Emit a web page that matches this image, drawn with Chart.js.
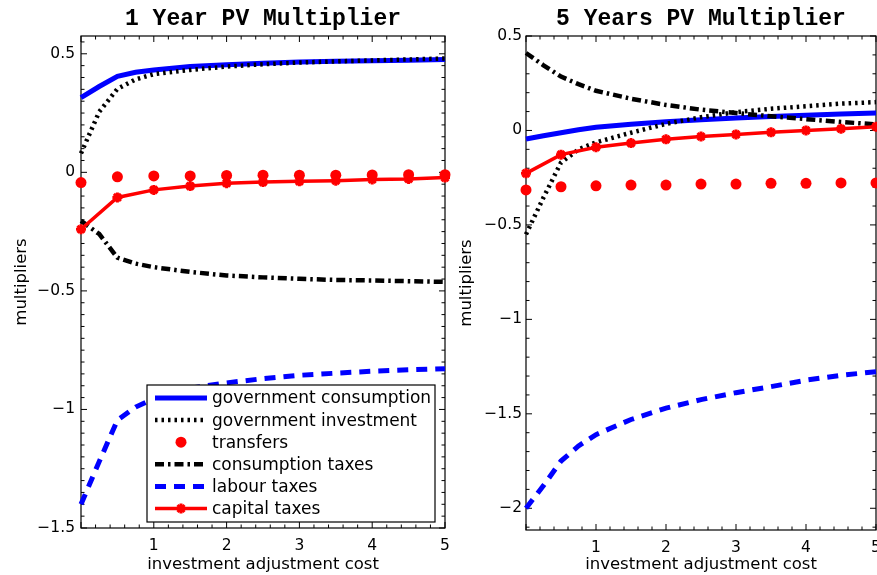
<!DOCTYPE html>
<html>
<head>
<meta charset="utf-8">
<script src="https://cdn.jsdelivr.net/npm/chart.js@4.4.1/dist/chart.umd.min.js"></script>
<style>
  html, body { margin: 0; padding: 0; background: #fff; }
  #page { position: relative; width: 877px; height: 575px; overflow: hidden; }
  #left { position: absolute; left: 0; top: 0; }
  #rightWrap { position: absolute; left: 440px; top: 0; width: 437px; height: 575px; overflow: hidden; }
</style>
</head>
<body>
<div id="page">
  <canvas id="left" width="460" height="575"></canvas>
  <div id="rightWrap"><canvas id="right" width="470" height="575"></canvas></div>
</div>
<script>
// investment adjustment cost grid
const xFine = [0, 0.25, 0.5, 0.75, 1, 1.5, 2, 2.5, 3, 3.5, 4, 4.5, 5];
const xMark = [0, 0.5, 1, 1.5, 2, 2.5, 3, 3.5, 4, 4.5, 5];

const seriesNames = ['government consumption', 'government investment', 'transfers',
  'consumption taxes', 'labour taxes', 'capital taxes'];

const xTickVals = [1, 2, 3, 4, 5];
const leftYTicks = [-1.5, -1, -0.5, 0, 0.5];
const rightYTicks = [-2, -1.5, -1, -0.5, 0, 0.5];

// 1 year PV multiplier
const L_govCons = [0.315, 0.362, 0.405, 0.422, 0.432, 0.446, 0.454, 0.460, 0.465, 0.468, 0.471, 0.473, 0.476];
const L_govInv = [0.08, 0.255, 0.352, 0.392, 0.414, 0.432, 0.446, 0.456, 0.463, 0.468, 0.472, 0.476, 0.480];
const L_transfers = [-0.043, -0.019, -0.015, -0.015, -0.013, -0.012, -0.012, -0.012, -0.011, -0.010, -0.010];
const L_consTax = [-0.205, -0.26, -0.36, -0.385, -0.40, -0.42, -0.435, -0.443, -0.449, -0.454, -0.456, -0.459, -0.462];
const L_labourTax = [-1.40, -1.22, -1.045, -0.99, -0.955, -0.91, -0.888, -0.87, -0.856, -0.847, -0.839, -0.833, -0.828];
const L_capTax = [-0.24, -0.106, -0.074, -0.058, -0.046, -0.041, -0.038, -0.035, -0.030, -0.028, -0.022];

// 5 years PV multiplier
const R_govCons = [-0.045, -0.028, -0.012, 0.004, 0.017, 0.033, 0.046, 0.057, 0.066, 0.074, 0.081, 0.087, 0.092];
const R_govInv = [-0.55, -0.355, -0.17, -0.10, -0.063, -0.012, 0.035, 0.07, 0.097, 0.115, 0.128, 0.142, 0.15];
const R_transfers = [-0.315, -0.298, -0.293, -0.289, -0.289, -0.284, -0.284, -0.280, -0.280, -0.278, -0.278];
const R_consTax = [0.41, 0.345, 0.285, 0.245, 0.21, 0.168, 0.135, 0.11, 0.092, 0.075, 0.06, 0.045, 0.032];
const R_labourTax = [-2.0, -1.88, -1.75, -1.67, -1.61, -1.53, -1.47, -1.425, -1.388, -1.356, -1.322, -1.296, -1.277];
const R_capTax = [-0.227, -0.128, -0.089, -0.067, -0.047, -0.032, -0.021, -0.010, 0.000, 0.009, 0.020];

const BLUE = '#0000ff', RED = '#ff0000', BLACK = '#000000';

Chart.defaults.font.family = "'DejaVu Sans', sans-serif";
Chart.defaults.color = '#000';

const pts = (xs, ys) => xs.map((x, i) => ({ x: x, y: ys[i] }));

function makeDatasets(govCons, govInv, transfers, consTax, labourTax, capTax) {
  const base = { fill: false, tension: 0, pointRadius: 0, clip: false, borderCapStyle: 'butt' };
  return [
    { ...base, label: seriesNames[0], data: pts(xFine, govCons), borderColor: BLUE, borderWidth: 5, order: 6 },
    { ...base, label: seriesNames[1], data: pts(xFine, govInv), borderColor: BLACK, borderWidth: 4.5, borderDash: [2.5, 4], order: 5 },
    { ...base, label: seriesNames[2], data: pts(xMark, transfers), showLine: false, borderColor: RED,
      pointRadius: 5.5, pointBackgroundColor: RED, pointBorderColor: RED, pointBorderWidth: 0, order: 4 },
    { ...base, label: seriesNames[3], data: pts(xFine, consTax), borderColor: BLACK, borderWidth: 4.5, borderDash: [9, 4, 2.5, 4], order: 3 },
    { ...base, label: seriesNames[4], data: pts(xFine, labourTax), borderColor: BLUE, borderWidth: 5, borderDash: [11, 8], order: 2 },
    { ...base, label: seriesNames[5], data: pts(xMark, capTax), borderColor: RED, borderWidth: 3.5,
      pointRadius: 5, pointStyle: 'star', pointBorderColor: RED, pointBackgroundColor: RED, pointBorderWidth: 3, order: 1 }
  ];
}

const fmt = v => (v < 0 ? '\u2212' + String(-v) : String(v));

// frame and inward ticks on all four sides
const frameTicks = {
  id: 'frameTicks',
  beforeDatasetsDraw(chart, args, opts) {
    const { ctx, chartArea: a, scales: { x, y } } = chart;
    ctx.save();
    ctx.strokeStyle = '#000';
    ctx.lineWidth = 1.2;
    ctx.strokeRect(a.left, a.top, a.right - a.left, a.bottom - a.top);
    ctx.lineWidth = 1;
    ctx.beginPath();
    const xk0 = Math.ceil(x.min / opts.xMinor - 1e-6), xk1 = Math.floor(x.max / opts.xMinor + 1e-6);
    for (let k = xk0; k <= xk1; k++) {
      const v = k * opts.xMinor;
      const major = Math.abs(v - Math.round(v)) < 1e-6;
      const len = major ? 6 : 3.5;
      const px = x.getPixelForValue(v);
      ctx.moveTo(px, a.bottom); ctx.lineTo(px, a.bottom - len);
      ctx.moveTo(px, a.top); ctx.lineTo(px, a.top + len);
    }
    const yk0 = Math.ceil(y.min / opts.yMinor - 1e-6), yk1 = Math.floor(y.max / opts.yMinor + 1e-6);
    for (let k = yk0; k <= yk1; k++) {
      const v = k * opts.yMinor;
      const major = Math.abs(v * 2 - Math.round(v * 2)) < 1e-6;
      const len = major ? 6 : 3.5;
      const py = y.getPixelForValue(v);
      ctx.moveTo(a.left, py); ctx.lineTo(a.left + len, py);
      ctx.moveTo(a.right, py); ctx.lineTo(a.right - len, py);
    }
    ctx.stroke();
    ctx.restore();
  }
};

// legend box drawn inside the plot area of the left panel
const legendBox = {
  id: 'legendBox',
  afterDatasetsDraw(chart) {
    const { ctx, chartArea: a } = chart;
    const right = a.right - 10, bottom = a.bottom - 6, left = a.left + 66, top = bottom - 137;
    ctx.save();
    ctx.fillStyle = '#fff';
    ctx.fillRect(left, top, right - left, bottom - top);
    ctx.strokeStyle = '#000';
    ctx.lineWidth = 1.2;
    ctx.strokeRect(left, top, right - left, bottom - top);
    ctx.beginPath();
    ctx.rect(left, top, right - left, bottom - top);
    ctx.clip();
    chart.data.datasets.forEach((ds, i) => {
      const yy = top + 13 + i * 22.1;
      const x0 = left + 8, x1 = left + 60, xm = (x0 + x1) / 2;
      if (ds.showLine !== false) {
        ctx.setLineDash(ds.borderDash || []);
        ctx.lineCap = 'butt';
        ctx.lineWidth = ds.borderWidth;
        ctx.strokeStyle = ds.borderColor;
        ctx.beginPath(); ctx.moveTo(x0, yy); ctx.lineTo(x1, yy); ctx.stroke();
        ctx.setLineDash([]);
      }
      if (ds.pointRadius > 0) {
        const r = ds.pointRadius;
        if (ds.pointStyle === 'star') {
          ctx.strokeStyle = ds.pointBorderColor;
          ctx.lineWidth = ds.pointBorderWidth;
          ctx.beginPath();
          for (let k = 0; k < 4; k++) {
            const ang = k * Math.PI / 4;
            ctx.moveTo(xm - r * Math.cos(ang), yy - r * Math.sin(ang));
            ctx.lineTo(xm + r * Math.cos(ang), yy + r * Math.sin(ang));
          }
          ctx.stroke();
        } else {
          ctx.fillStyle = ds.pointBackgroundColor;
          ctx.beginPath(); ctx.arc(xm, yy, r, 0, Math.PI * 2); ctx.fill();
        }
      }
      ctx.fillStyle = '#000';
      ctx.font = "17px 'DejaVu Sans'";
      ctx.textBaseline = 'middle';
      ctx.textAlign = 'left';
      ctx.fillText(ds.label, x1 + 5, yy + 1);
    });
    ctx.restore();
  }
};

function makeOptions(cfg) {
  return {
    responsive: false,
    animation: false,
    events: [],
    layout: { padding: { left: 0, right: cfg.padRight, top: 0, bottom: 0 } },
    plugins: {
      legend: { display: false },
      tooltip: { enabled: false },
      title: {
        display: true, text: cfg.title, fullSize: false, color: '#000',
        font: { family: "'Liberation Mono', monospace", size: 23, weight: 'bold', lineHeight: 1.2 },
        padding: { top: 5, bottom: 3.4 }
      },
      frameTicks: { xMinor: 0.2, yMinor: cfg.yMinor }
    },
    scales: {
      x: {
        type: 'linear', min: 0, max: 5,
        grid: { display: false, drawTicks: false }, border: { display: false },
        afterBuildTicks: s => { s.ticks = xTickVals.map(v => ({ value: v })); },
        afterFit: s => { s.height = cfg.xHeight; },
        ticks: { padding: 9, font: { size: 15.5 }, maxRotation: 0, autoSkip: false, callback: fmt },
        title: { display: true, text: 'investment adjustment cost', font: { size: 16.5, lineHeight: 1.2 }, padding: { top: 0, bottom: 0 } }
      },
      y: {
        type: 'linear', min: cfg.yMin, max: cfg.yMax,
        grid: { display: false, drawTicks: false }, border: { display: false },
        afterBuildTicks: s => { s.ticks = cfg.yTicks.map(v => ({ value: v })); },
        afterFit: s => { s.width = cfg.yWidth; },
        ticks: { padding: cfg.yTickPad, font: { size: 15.5 }, autoSkip: false, callback: fmt },
        title: { display: true, text: 'multipliers', font: { size: 16.5, lineHeight: 1.2 }, padding: { top: cfg.yTitlePad, bottom: 0 } }
      }
    }
  };
}

new Chart(document.getElementById('left'), {
  type: 'line',
  data: { datasets: makeDatasets(L_govCons, L_govInv, L_transfers, L_consTax, L_labourTax, L_capTax) },
  options: makeOptions({
    title: '1 Year PV Multiplier', padRight: 15, yMin: -1.5, yMax: 0.575, yTicks: leftYTicks,
    yMinor: 0.05, yWidth: 81, yTickPad: 6, yTitlePad: 12, xHeight: 47
  }),
  plugins: [frameTicks, legendBox]
});

new Chart(document.getElementById('right'), {
  type: 'line',
  data: { datasets: makeDatasets(R_govCons, R_govInv, R_transfers, R_consTax, R_labourTax, R_capTax) },
  options: makeOptions({
    title: '5 Years PV Multiplier', padRight: 34, yMin: -2.115, yMax: 0.5, yTicks: rightYTicks,
    yMinor: 0.1, yWidth: 86, yTickPad: 4, yTitlePad: 17, xHeight: 45
  }),
  plugins: [frameTicks]
});
</script>
</body>
</html>
